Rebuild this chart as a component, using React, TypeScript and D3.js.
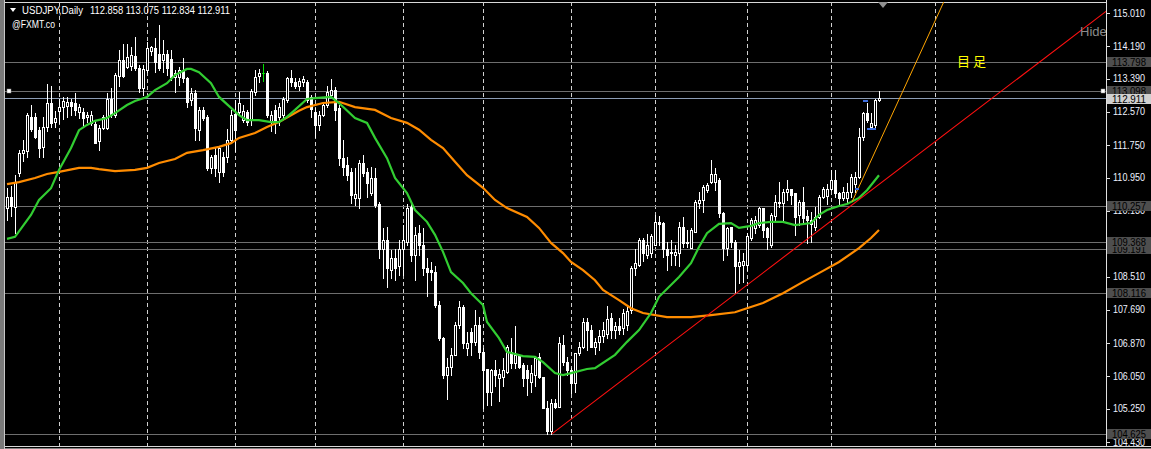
import React from 'react';
import * as d3 from 'd3';

const W = 1151;
const H = 449;

// Daily USDJPY candles [open, high, low, close], mid-Sep 2017 .. mid-Jul 2018
const ohlc: [number, number, number, number][] = [
  [110.20, 110.69, 109.90, 110.48], [110.48, 110.75, 110.00, 110.25], [110.23, 111.01, 109.58, 110.85],
  [111.06, 111.63, 111.00, 111.55], [111.55, 111.88, 111.35, 111.62], [111.60, 112.55, 111.45, 112.50],
  [112.45, 112.74, 112.10, 112.16], [112.45, 112.55, 111.92, 111.96], [112.12, 112.20, 111.47, 111.67],
  [111.70, 112.45, 111.47, 112.20], [112.20, 113.25, 112.10, 112.80], [112.80, 113.20, 112.20, 112.29],
  [112.32, 112.60, 112.20, 112.43], [112.60, 112.90, 112.30, 112.70], [112.70, 112.95, 112.40, 112.84],
  [112.72, 112.95, 112.45, 112.82], [112.82, 112.90, 112.50, 112.72], [112.80, 113.03, 112.50, 112.62],
  [112.58, 112.76, 112.41, 112.68], [112.58, 112.66, 112.20, 112.41], [112.45, 112.56, 112.33, 112.50],
  [112.29, 112.60, 112.25, 112.49], [112.27, 112.35, 111.80, 111.80], [111.85, 112.25, 111.63, 112.17],
  [112.17, 112.50, 112.15, 112.45], [112.17, 113.03, 112.15, 112.90], [112.90, 113.17, 112.45, 112.49],
  [112.49, 113.52, 112.45, 113.48], [113.45, 114.10, 113.20, 113.85], [113.85, 114.24, 113.44, 113.45],
  [113.68, 114.24, 113.65, 113.93], [113.70, 114.18, 113.60, 113.97], [113.96, 114.43, 113.60, 113.65],
  [113.66, 113.72, 113.07, 113.15], [113.15, 113.72, 112.99, 113.64], [113.60, 114.30, 113.56, 114.15],
  [114.07, 114.20, 113.98, 114.18], [114.14, 114.40, 113.56, 113.81], [113.99, 114.71, 113.60, 113.66],
  [113.85, 114.34, 113.56, 113.99], [113.99, 114.10, 113.48, 113.65], [113.87, 114.10, 113.36, 113.44],
  [113.44, 113.60, 113.07, 113.52], [113.44, 113.68, 113.24, 113.60], [113.60, 113.89, 113.32, 113.40],
  [113.40, 113.44, 112.70, 112.82], [112.86, 113.15, 112.74, 113.03], [113.03, 113.11, 111.88, 112.17],
  [112.12, 112.70, 111.88, 112.62], [112.62, 112.70, 112.37, 112.41], [112.45, 112.50, 111.14, 111.18],
  [111.18, 111.51, 111.06, 111.47], [111.51, 111.67, 110.98, 111.18], [111.10, 111.71, 110.85, 111.67],
  [111.47, 111.59, 111.00, 111.10], [111.47, 112.16, 111.34, 111.88], [111.88, 112.62, 111.80, 112.49],
  [112.53, 112.86, 111.60, 112.12], [112.58, 113.07, 112.49, 112.78], [112.37, 112.74, 112.33, 112.60],
  [112.58, 112.62, 112.25, 112.33], [112.37, 113.14, 112.25, 113.09], [113.07, 113.60, 113.00, 113.44],
  [113.46, 113.64, 113.30, 113.52], [113.54, 113.75, 113.34, 113.54], [113.54, 113.58, 112.45, 112.49],
  [112.35, 112.60, 112.10, 112.50], [112.62, 112.74, 112.04, 112.29], [112.45, 112.80, 112.25, 112.70],
  [112.49, 112.95, 112.45, 112.90], [112.86, 113.44, 112.82, 113.40], [113.40, 113.60, 113.20, 113.32],
  [113.30, 113.40, 113.16, 113.20], [113.22, 113.40, 113.11, 113.33], [113.30, 113.45, 113.20, 113.38],
  [113.30, 113.36, 112.82, 112.86], [112.93, 113.00, 112.45, 112.65], [112.58, 112.66, 111.96, 112.25],
  [112.25, 112.60, 112.12, 112.50], [112.50, 112.82, 112.46, 112.74], [112.74, 113.20, 112.70, 113.07],
  [112.99, 113.38, 112.95, 113.11], [113.11, 113.19, 112.37, 112.62], [112.66, 112.74, 111.26, 111.43],
  [111.43, 111.88, 111.01, 111.22], [111.26, 111.45, 110.90, 111.01], [111.10, 111.18, 110.32, 110.52],
  [110.45, 111.18, 110.27, 110.55], [110.44, 111.38, 110.19, 111.30], [111.30, 111.51, 111.00, 111.06],
  [111.10, 111.18, 110.48, 110.81], [110.56, 111.22, 110.52, 110.93], [110.93, 111.18, 110.23, 110.27],
  [110.31, 110.35, 108.96, 109.20], [109.20, 109.70, 108.47, 109.41], [109.41, 109.74, 108.26, 108.71],
  [108.67, 109.17, 108.47, 108.96], [108.96, 109.20, 108.43, 108.72], [108.76, 109.41, 108.55, 109.20],
  [109.20, 109.78, 108.55, 109.41], [109.37, 110.30, 109.30, 110.19], [110.23, 110.31, 108.90, 109.04],
  [109.04, 109.74, 108.43, 109.53], [109.58, 109.78, 109.04, 109.29], [109.29, 109.70, 108.55, 108.71],
  [108.71, 108.96, 108.02, 108.63], [108.67, 108.88, 108.43, 108.63], [108.63, 108.76, 107.77, 107.81],
  [107.81, 107.90, 106.95, 106.99], [106.99, 107.03, 106.00, 106.08], [106.08, 106.49, 105.50, 106.29],
  [106.29, 106.74, 106.08, 106.57], [106.57, 107.40, 106.57, 107.32], [107.32, 107.90, 107.24, 107.77],
  [107.77, 107.81, 106.74, 106.86], [106.74, 107.15, 106.57, 106.86], [107.15, 107.24, 106.57, 106.90],
  [106.90, 107.69, 106.82, 107.32], [107.32, 107.52, 106.49, 106.66], [106.66, 106.74, 105.26, 106.20],
  [106.24, 106.24, 105.34, 105.67], [105.67, 106.24, 105.34, 106.20], [106.20, 106.45, 105.80, 106.08],
  [106.00, 106.24, 105.43, 106.10], [106.04, 106.50, 105.80, 106.20], [106.16, 106.82, 106.12, 106.78],
  [106.66, 106.99, 106.25, 106.37], [106.37, 107.28, 106.25, 106.57], [106.57, 106.57, 106.25, 106.29],
  [106.33, 106.37, 105.80, 106.00], [106.20, 106.33, 105.59, 106.00], [105.92, 106.33, 105.67, 106.12],
  [106.08, 106.53, 105.80, 106.49], [106.53, 106.62, 106.00, 106.04], [106.04, 106.04, 105.26, 105.26],
  [105.27, 105.43, 104.62, 104.69], [104.69, 105.50, 104.63, 105.38], [105.38, 105.50, 105.26, 105.30],
  [105.30, 107.03, 105.30, 106.86], [106.82, 107.07, 106.33, 106.41], [106.41, 106.53, 106.08, 106.20],
  [106.20, 106.25, 105.63, 105.88], [105.88, 106.62, 105.67, 106.62], [106.62, 106.90, 106.57, 106.78],
  [106.78, 107.48, 106.74, 107.40], [107.40, 107.48, 106.70, 107.20], [107.20, 107.32, 106.78, 106.78],
  [106.78, 107.00, 106.60, 106.90], [106.90, 107.20, 106.70, 107.05], [107.05, 107.40, 106.90, 107.20],
  [107.10, 107.78, 107.00, 107.46], [107.48, 107.60, 107.00, 107.20], [107.20, 107.40, 107.00, 107.30],
  [107.30, 107.50, 107.10, 107.20], [107.23, 107.70, 107.10, 107.60], [107.32, 107.80, 107.20, 107.65],
  [107.69, 108.76, 107.60, 108.71], [108.71, 109.20, 108.55, 108.84], [108.80, 109.45, 108.76, 109.41],
  [109.41, 109.45, 108.90, 109.08], [109.05, 109.55, 108.96, 109.30], [109.08, 109.55, 108.99, 109.50],
  [109.29, 110.03, 109.29, 109.86], [109.86, 110.00, 109.30, 109.80], [109.82, 109.86, 109.00, 109.18],
  [109.20, 109.37, 108.67, 109.04], [109.12, 109.40, 108.80, 109.08], [109.04, 109.30, 108.80, 109.12],
  [109.08, 109.86, 108.76, 109.74], [109.74, 109.99, 109.25, 109.33], [109.33, 109.66, 109.25, 109.37],
  [109.21, 109.70, 109.21, 109.66], [109.62, 110.40, 109.62, 110.36], [110.32, 110.60, 110.20, 110.40],
  [110.40, 110.77, 110.11, 110.72], [110.65, 110.81, 110.60, 110.77], [110.85, 111.38, 110.81, 111.05],
  [110.85, 111.18, 110.64, 111.05], [110.89, 110.93, 109.99, 110.07], [110.07, 110.11, 108.92, 109.21],
  [109.21, 109.74, 109.04, 109.70], [109.74, 109.74, 109.25, 109.37], [109.37, 109.41, 108.10, 108.76],
  [108.76, 109.17, 108.35, 108.88], [108.80, 109.08, 108.38, 108.90], [108.80, 109.58, 108.67, 109.50],
  [109.45, 109.95, 109.40, 109.90], [109.70, 110.00, 109.58, 109.90], [109.78, 110.23, 109.74, 110.19],
  [110.19, 110.19, 109.49, 109.66], [109.70, 109.74, 109.20, 109.49], [109.29, 110.07, 109.25, 110.03],
  [110.00, 110.52, 109.90, 110.36], [110.36, 110.85, 110.23, 110.32], [110.32, 110.68, 109.90, 110.60],
  [110.60, 110.89, 110.40, 110.68], [110.68, 110.68, 110.30, 110.52], [110.56, 110.56, 109.54, 109.99],
  [110.03, 110.40, 109.78, 110.36], [110.36, 110.72, 109.82, 109.95], [110.00, 110.15, 109.33, 109.90],
  [109.90, 110.11, 109.37, 109.80], [109.74, 110.23, 109.66, 109.99], [109.99, 110.52, 109.95, 110.48],
  [110.48, 110.72, 110.44, 110.68], [110.50, 110.80, 110.30, 110.68], [110.68, 111.14, 110.64, 110.89],
  [110.89, 111.14, 110.48, 110.56], [110.56, 110.60, 110.30, 110.44], [110.44, 110.72, 110.40, 110.60],
  [110.44, 110.81, 110.36, 110.60], [110.60, 111.05, 110.48, 110.97], [110.80, 111.10, 110.60, 110.97],
  [110.97, 112.17, 110.93, 111.96], [111.96, 112.58, 111.88, 112.54], [112.54, 112.78, 112.33, 112.37],
  [112.20, 112.54, 112.17, 112.29], [112.25, 112.90, 112.21, 112.87], [112.858, 113.075, 112.834, 112.911],
];

// bar index where each month starts (dashed grid), last one is in the future area
const monthStarts = [13, 35, 57, 77, 99, 119, 141, 162, 185, 206, 232];

const yTicks = [115.01, 114.19, 113.39, 112.57, 111.75, 110.95, 110.13, 109.31, 108.51, 107.69, 106.87, 106.05, 105.25, 104.43];

const levelLines = [113.798, 113.098, 110.257, 109.191, 109.368, 108.116, 104.625];
const currentPrice = 112.911;

// moving averages sampled [barIndex, price]
const maGreen: [number, number][] = [
  [0, 109.44], [2, 109.49], [6, 110.03], [8, 110.40], [11, 110.69], [13, 111.14], [16, 111.68], [18, 112.12],
  [20, 112.25], [22, 112.35], [25, 112.42], [27, 112.54], [30, 112.74], [32, 112.84], [35, 112.94], [37, 113.11],
  [40, 113.28], [42, 113.48], [45, 113.63], [46, 113.63], [48, 113.55], [51, 113.28], [53, 112.94], [56, 112.67],
  [58, 112.49], [60, 112.37], [63, 112.37], [66, 112.32], [68, 112.32], [70, 112.45], [72, 112.62], [75, 112.89],
  [77, 112.91], [81, 112.94], [83, 112.79], [87, 112.42], [90, 112.30], [92, 111.93], [95, 111.43], [97, 110.94],
  [100, 110.57], [102, 110.15], [105, 109.86], [107, 109.54], [109, 109.12], [111, 108.62], [114, 108.35], [116, 108.10],
  [119, 107.81], [120, 107.39], [123, 106.99], [125, 106.65], [129, 106.55], [132, 106.53], [134, 106.40], [137, 106.13],
  [139, 106.08], [141, 106.13], [145, 106.23], [147, 106.25], [152, 106.58], [155, 106.90], [158, 107.19], [161, 107.61],
  [163, 108.01], [168, 108.50], [171, 108.84], [173, 109.24], [175, 109.58], [178, 109.81], [181, 109.83], [183, 109.71],
  [186, 109.76], [188, 109.83], [191, 109.86], [194, 109.86], [197, 109.78], [201, 109.83], [203, 110.03], [205, 110.15],
  [208, 110.25], [210, 110.30], [213, 110.45], [215, 110.64], [218, 111.01],
];
const maOrange: [number, number][] = [
  [0, 110.79], [3, 110.84], [7, 110.94], [10, 111.04], [13, 111.09], [18, 111.19], [21, 111.19], [23, 111.16],
  [27, 111.11], [32, 111.14], [35, 111.19], [38, 111.31], [42, 111.41], [45, 111.56], [49, 111.63], [53, 111.71],
  [56, 111.80], [58, 111.93], [62, 112.05], [65, 112.20], [68, 112.32], [71, 112.49], [73, 112.60], [75, 112.69],
  [79, 112.79], [83, 112.82], [87, 112.69], [92, 112.62], [96, 112.42], [100, 112.30], [103, 112.13], [106, 111.88],
  [109, 111.68], [112, 111.34], [115, 111.01], [119, 110.70], [122, 110.40], [125, 110.20], [130, 109.98], [133, 109.71],
  [136, 109.34], [139, 109.09], [141, 108.87], [144, 108.67], [147, 108.42], [149, 108.18], [153, 107.93], [156, 107.73],
  [159, 107.61], [165, 107.51], [171, 107.51], [176, 107.56], [182, 107.63], [185, 107.73], [189, 107.86], [194, 108.10],
  [199, 108.38], [204, 108.65], [208, 108.87], [213, 109.21], [216, 109.46], [218, 109.66],
];

const redTrend: [number, number][] = [[136.2, 104.63], [275, 115.07]];
const orangeTrend: [number, number][] = [[211.25, 110.35], [234.5, 115.35]];
const blueMarks: [number, number, number][] = [[212, 213, 110.68], [214, 215.25, 112.85], [215, 217.25, 112.16]];

const symbolLabel = 'USDJPY,Daily';
const quoteLabel = '112.858 113.075 112.834 112.911';
const brokerLabel = '@FXMT.co';
const noteLabel = '目 足';

const L = 5, R = 1106, T = 2, B = 446;
const FONT = "'Liberation Sans', Arial, sans-serif";

export default function App() {
  const x = d3.scaleLinear().domain([0, 218]).range([7, 879]);
  const y = d3.scaleLinear().domain([104.43, 115.01]).range([442, 13]);
  const line = d3.line<[number, number]>().x(d => x(d[0])).y(d => y(d[1]));

  const candles = ohlc.map((d, i) => {
    const [o, h, l, c] = d;
    const cx = Math.round(x(i));
    const top = Math.round(y(Math.max(o, c)));
    const bot = Math.round(y(Math.min(o, c)));
    const wick = <line x1={cx + 0.5} x2={cx + 0.5} y1={Math.round(y(h))} y2={Math.round(y(l)) + 1} stroke={o === c ? '#00e000' : '#fff'} strokeWidth={1} />;
    let body;
    if (o === c) body = <line x1={cx - 1} x2={cx + 2} y1={top + 0.5} y2={top + 0.5} stroke="#00e000" />;
    else if (c > o) body = <rect x={cx - 0.5} y={top + 0.5} width={2} height={Math.max(bot - top, 1)} fill="#000" stroke="#fff" strokeWidth={1} />;
    else body = <rect x={cx - 1} y={top} width={3} height={Math.max(bot - top + 1, 1)} fill="#fff" />;
    return <g key={i}>{wick}{body}</g>;
  });

  return (
    <svg width={W} height={H} style={{ position: 'fixed', left: 0, top: 0, background: '#000' }} fontFamily={FONT}>
      <defs>
        <clipPath id="plot"><rect x={L} y={T} width={R - L} height={B - T} /></clipPath>
      </defs>
      <rect x={0} y={0} width={W} height={H} fill="#000" />
      {/* frame */}
      <rect x={0} y={0} width={4} height={H} fill="#7a7a7a" />
      <line x1={4.5} x2={4.5} y1={0} y2={H} stroke="#c8c8c8" />
      <line x1={L} x2={R} y1={T + 0.5} y2={T + 0.5} stroke="#d8d8d8" />
      <line x1={L} x2={W} y1={B + 0.5} y2={B + 0.5} stroke="#d8d8d8" />
      <line x1={L} x2={W} y1={B + 2.5} y2={B + 2.5} stroke="#808080" />
      <line x1={R + 0.5} x2={R + 0.5} y1={0} y2={B} stroke="#e0e0e0" />

      <g clipPath="url(#plot)">
        {monthStarts.map(m => (
          <line key={m} x1={Math.round(x(m)) + 0.5} x2={Math.round(x(m)) + 0.5} y1={T} y2={B} stroke="#d0d0d0" strokeDasharray="4 3" />
        ))}
        {levelLines.map(v => (
          <line key={v} x1={L} x2={R} y1={Math.round(y(v)) + 0.5} y2={Math.round(y(v)) + 0.5} stroke="#6e6e6e" />
        ))}
        <line x1={L} x2={R} y1={Math.round(y(currentPrice)) + 0.5} y2={Math.round(y(currentPrice)) + 0.5} stroke="#8c9cb4" />
        {candles}
        <path d={line(maOrange) || ''} fill="none" stroke="#ff8c00" strokeWidth={2.2} />
        <path d={line(maGreen) || ''} fill="none" stroke="#32cd32" strokeWidth={2.2} />
        <path d={line(redTrend) || ''} fill="none" stroke="#ff1010" strokeWidth={1.1} />
        <path d={line(orangeTrend) || ''} fill="none" stroke="#ffa500" strokeWidth={1} />
        {blueMarks.map((b, k) => (
          <rect key={k} x={x(b[0])} y={Math.round(y(b[2])) - 1} width={x(b[1]) - x(b[0])} height={2} fill="#3f6fe0" />
        ))}
        <rect x={7} y={Math.round(y(113.098)) - 2} width={4} height={4} fill="#fff" stroke="#888" strokeWidth={0.5} />
        <rect x={1101} y={Math.round(y(113.098)) - 2} width={4} height={4} fill="#fff" stroke="#888" strokeWidth={0.5} />
        <text x={957} y={66} fill="#ffff00" fontSize={13} fontFamily="'Noto Sans CJK SC', sans-serif">{noteLabel}</text>
        <text x={1080} y={36} fill="#8a8a8a" fontSize={13}>Hide</text>
        <polygon points="878,2 888,2 883,8" fill="#909090" />
      </g>

      {/* header */}
      <polygon points="10,8 16,8 13,12" fill="#fff" />
      <text x={22} y={14} fill="#fff" fontSize={10} textLength={61} lengthAdjust="spacingAndGlyphs">{symbolLabel}</text>
      <text x={90} y={14} fill="#fff" fontSize={10} textLength={140} lengthAdjust="spacingAndGlyphs">{quoteLabel}</text>
      <text x={12} y={28} fill="#fff" fontSize={10} textLength={43} lengthAdjust="spacingAndGlyphs">{brokerLabel}</text>

      {/* right price axis */}
      {yTicks.map(v => (
        <g key={v}>
          <line x1={R} x2={R + 4} y1={Math.round(y(v)) + 0.5} y2={Math.round(y(v)) + 0.5} stroke="#e0e0e0" />
          <text x={1113} y={y(v) + 3.5} fill="#eef2ff" fontSize={10} textLength={32} lengthAdjust="spacingAndGlyphs">{d3.format('.3f')(v)}</text>
        </g>
      ))}
      {levelLines.map(v => (
        <g key={'b' + v}>
          <rect x={R + 1} y={Math.round(y(v)) - 5} width={W - R - 1} height={10} fill="#4e4e4e" />
          <text x={1112} y={Math.round(y(v)) + 4} fill="#000" fontSize={10} textLength={34} lengthAdjust="spacingAndGlyphs">{d3.format('.3f')(v)}</text>
        </g>
      ))}
      <rect x={R + 1} y={Math.round(y(currentPrice)) - 4} width={W - R - 1} height={10} fill="#d0d0d0" />
      <text x={1112} y={Math.round(y(currentPrice)) + 5} fill="#000" fontSize={10} textLength={34} lengthAdjust="spacingAndGlyphs">{d3.format('.3f')(currentPrice)}</text>
    </svg>
  );
}
